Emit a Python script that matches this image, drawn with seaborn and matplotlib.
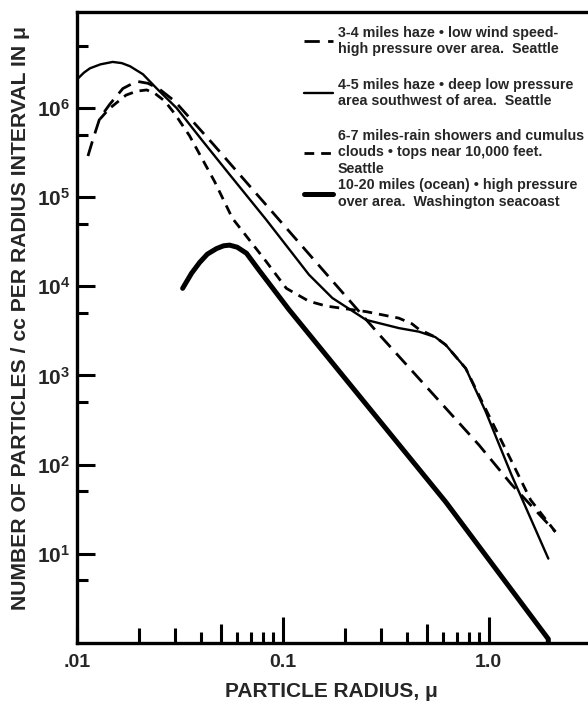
import matplotlib
matplotlib.use("Agg")
import matplotlib.pyplot as plt
import seaborn as sns

# particle radius (micron) / number per cc per radius interval
haze34_r = [0.0113, 0.0120, 0.0129, 0.0144, 0.0167, 0.0195, 0.0221, 0.025, 0.0298,
            0.0456, 0.293, 0.895, 1.29, 2.11]
haze34_n = [2.9e5, 4.6e5, 7.7e5, 1.1e6, 1.66e6, 2.0e6, 1.9e6, 1.65e6, 1.2e6,
            4.0e5, 2.9e3, 167, 60, 17.6]

haze45_r = [0.010, 0.0108, 0.01156, 0.013, 0.0149, 0.0165, 0.0181, 0.0209, 0.0244,
            0.0305, 0.0407, 0.0551, 0.083, 0.134, 0.174, 0.254, 0.366, 0.458, 0.55,
            0.619, 0.774, 0.967, 1.29, 1.95]
haze45_n = [2.1e6, 2.5e6, 2.8e6, 3.1e6, 3.3e6, 3.2e6, 2.95e6, 2.4e6, 1.66e6,
            1.0e6, 4.3e5, 1.8e5, 5.6e4, 1.35e4, 7.4e3, 4.2e3, 3.4e3, 3.1e3, 2.7e3,
            2.2e3, 1.2e3, 394, 77, 8.8]

rain67_r = [0.0129, 0.0143, 0.0173, 0.0195, 0.0218, 0.024, 0.0267, 0.030, 0.0352,
            0.0466, 0.0569, 0.083, 0.104, 0.134, 0.163, 0.254, 0.366, 0.424, 0.458,
            0.55, 0.619, 0.774, 0.967, 1.29, 1.6, 2.11]
rain67_n = [7.5e5, 9.8e5, 1.4e6, 1.55e6, 1.6e6, 1.45e6, 1.2e6, 8.5e5, 4.9e5,
            1.5e5, 5.8e4, 1.9e4, 9.5e3, 6.8e3, 6.0e3, 5.2e3, 4.4e3, 3.8e3, 3.3e3,
            2.7e3, 2.2e3, 1.2e3, 420, 110, 40, 17.6]

ocean_r = [0.0326, 0.036, 0.0394, 0.043, 0.0476, 0.0515, 0.0551, 0.060, 0.0666,
           0.0769, 0.107, 0.619, 1.95, 1.95]
ocean_n = [9.5e3, 1.4e4, 1.85e4, 2.3e4, 2.65e4, 2.85e4, 2.9e4, 2.75e4, 2.35e4,
           1.5e4, 5.5e3, 38, 1.1, 1.0]

labels = ["3-4 miles haze • low wind speed-\nhigh pressure over area.  Seattle",
          "4-5 miles haze • deep low pressure\narea southwest of area.  Seattle",
          "6-7 miles-rain showers and cumulus\nclouds • tops near 10,000 feet.\nSeattle",
          "10-20 miles (ocean) • high pressure\nover area.  Washington seacoast"]

x_major = [0.01, 0.02, 0.03, 0.05, 0.1, 0.2, 0.3, 0.5, 1.0]
x_major_labels = [".01", "", "", "", "0.1", "", "", "", "1.0"]
x_minor = [0.04, 0.06, 0.07, 0.08, 0.09, 0.4, 0.6, 0.7, 0.8, 0.9]
y_major = [1e1, 1e2, 1e3, 1e4, 1e5, 1e6]
y_major_labels = [r"$\mathbf{10^{%d}}$" % k for k in range(1, 7)]
y_minor = [5, 50, 500, 5e3, 5e4, 5e5, 5e6]

sns.set_style("ticks")
plt.rcParams["font.family"] = ["Liberation Sans", "DejaVu Sans"]
plt.rcParams["font.weight"] = "bold"
plt.rcParams["mathtext.fontset"] = "custom"
plt.rcParams["mathtext.rm"] = "Liberation Sans"
plt.rcParams["mathtext.bf"] = "Liberation Sans:bold"

fig, ax = plt.subplots(figsize=(5.88, 7.04), dpi=100)
fig.subplots_adjust(left=0.131, right=0.998, top=0.983, bottom=0.087)

sns.lineplot(x=haze34_r, y=haze34_n, ax=ax, color="black", lw=2.0, sort=False,
             estimator=None, linestyle=(0, (5.5, 3)))
sns.lineplot(x=haze45_r, y=haze45_n, ax=ax, color="black", lw=1.7, sort=False,
             estimator=None)
sns.lineplot(x=rain67_r, y=rain67_n, ax=ax, color="black", lw=2.0, sort=False,
             estimator=None, linestyle=(0, (3.5, 2.5)))
sns.lineplot(x=ocean_r, y=ocean_n, ax=ax, color="black", lw=3.6, sort=False,
             estimator=None)
lines = ax.lines[:4]

ax.set_xscale("log")
ax.set_yscale("log")
ax.set_xlim(0.01, 3.0)
ax.set_ylim(1, 1.2e7)

ax.set_xticks(x_major)
ax.set_xticklabels(x_major_labels, fontweight="bold")
ax.set_xticks(x_minor, minor=True)
ax.set_xticklabels([""] * len(x_minor), minor=True)
ax.set_yticks(y_major)
ax.set_yticklabels(y_major_labels)
ax.set_yticks(y_minor, minor=True)
ax.set_yticklabels([""] * len(y_minor), minor=True)

ax.tick_params(which="both", direction="in", width=2.2, color="black")
ax.tick_params(axis="x", which="major", length=11, pad=8, labelsize=14)
ax.tick_params(axis="x", which="minor", length=8)
ax.tick_params(axis="y", which="major", length=13, pad=5, labelsize=15)
ax.tick_params(axis="y", which="minor", length=8)
for t, val in zip(ax.xaxis.get_major_ticks(), x_major):
    if val in (0.1, 1.0):
        t.tick1line.set_markersize(19)
    elif val in (0.05, 0.5):
        t.tick1line.set_markersize(14)

for side in ["left", "bottom", "top"]:
    ax.spines[side].set_linewidth(2.4)
    ax.spines[side].set_color("black")
ax.spines["right"].set_visible(False)

ax.set_xlabel("PARTICLE RADIUS, μ", fontsize=15, fontweight="bold", labelpad=8)
ax.set_ylabel("NUMBER OF PARTICLES / cc PER RADIUS INTERVAL IN μ", fontsize=15.2,
              fontweight="bold")
ax.yaxis.set_label_coords(-0.092, 0.515)

leg_font = {"size": 10.3, "weight": "bold"}
leg1 = ax.legend(handles=lines[:3], labels=labels[:3], loc="upper left",
                 bbox_to_anchor=(0.446, 0.978), frameon=False, prop=leg_font,
                 handlelength=2.0, handletextpad=0.35, labelspacing=1.5,
                 borderpad=0, borderaxespad=0)
ax.add_artist(leg1)
ax.legend(handles=lines[3:], labels=labels[3:], loc="upper left",
          bbox_to_anchor=(0.446, 0.736), frameon=False, prop=leg_font,
          handlelength=2.0, handletextpad=0.35, borderpad=0, borderaxespad=0)

plt.savefig("out.png", dpi=100)
plt.close()
